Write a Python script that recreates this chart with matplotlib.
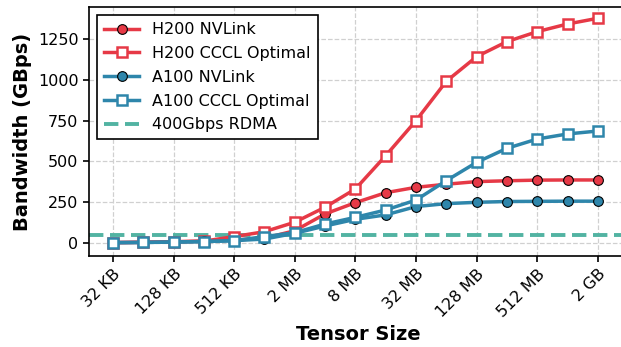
import matplotlib
matplotlib.use("Agg")
import matplotlib.pyplot as plt
import numpy as np

sizes = ["32 KB", "64 KB", "128 KB", "256 KB", "512 KB", "1 MB", "2 MB", "4 MB",
         "8 MB", "16 MB", "32 MB", "64 MB", "128 MB", "256 MB", "512 MB", "1 GB", "2 GB"]
h200_nvlink = [2, 4, 7, 11, 18, 29, 75, 178, 247, 308, 341, 360, 376, 381, 385, 386, 386]
h200_cccl = [2, 4, 7, 11, 39, 69, 127, 219, 331, 535, 750, 991, 1142, 1234, 1295, 1342, 1377]
a100_nvlink = [2, 3, 6, 9, 14, 24, 59, 104, 145, 172, 223, 241, 249, 254, 255, 256, 256]
a100_cccl = [2, 3, 5, 8, 14, 39, 63, 116, 157, 202, 263, 382, 494, 580, 637, 668, 686]
rdma = 50

RED = "#E63946"
BLUE = "#2E86AB"
TEAL = "#52B3A2"

fig = plt.figure(figsize=(6.21, 3.47), dpi=100)
ax = fig.add_axes([89/621, 1-256/347, (627-89)/621, (256-7)/347])

x = np.arange(len(sizes))
ax.plot(x, h200_nvlink, '-o', color=RED, lw=2.5, ms=7, mfc=RED, mec='black', mew=0.8, label="H200 NVLink", zorder=3)
ax.plot(x, h200_cccl, '-s', color=RED, lw=2.5, ms=7, mfc='white', mec=RED, mew=1.8, label="H200 CCCL Optimal", zorder=3)
ax.plot(x, a100_nvlink, '-o', color=BLUE, lw=2.5, ms=7, mfc=BLUE, mec='black', mew=0.8, label="A100 NVLink", zorder=3)
ax.plot(x, a100_cccl, '-s', color=BLUE, lw=2.5, ms=7, mfc='white', mec=BLUE, mew=1.8, label="A100 CCCL Optimal", zorder=3)
ax.axhline(rdma, color=TEAL, ls=(0, (3.7, 1.7)), lw=2.8, label="400Gbps RDMA", zorder=2)

ax.set_xlim(-0.79, 16.96)
ax.set_ylim(-80, 1446)
ax.set_yticks([0, 250, 500, 750, 1000, 1250])
ax.set_xticks(x[::2])
ax.set_xticklabels(sizes[::2], rotation=45, ha='right', rotation_mode='anchor', fontsize=11.5)
ax.tick_params(axis='y', labelsize=11.5)
ax.tick_params(axis='both', width=1.2, length=4)
ax.grid(True, ls='--', color='#d0d0d0', lw=0.9)
ax.set_axisbelow(True)
for s in ax.spines.values():
    s.set_linewidth(1.2)

ax.set_xlabel("Tensor Size", fontsize=14, fontweight='bold')
ax.set_ylabel("Bandwidth (GBps)", fontsize=14, fontweight='bold')

leg = ax.legend(loc='upper left', fontsize=11.5, fancybox=False, framealpha=1,
                edgecolor='black', borderpad=0.45, handlelength=2.2, labelspacing=0.55)
leg.get_frame().set_linewidth(1.2)

fig.savefig("out.png", dpi=100)
